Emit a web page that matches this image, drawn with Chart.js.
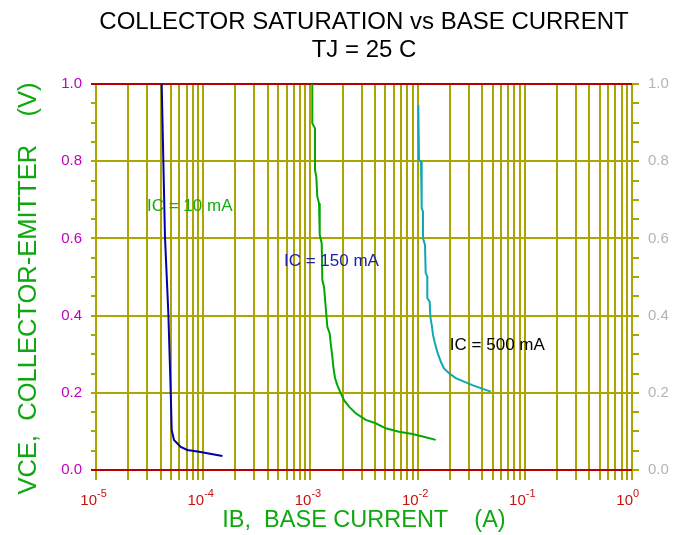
<!DOCTYPE html>
<html>
<head>
<meta charset="utf-8">
<script src="https://cdn.jsdelivr.net/npm/chart.js@4"></script>
<style>
  html, body { margin: 0; padding: 0; background: #ffffff; }
  #wrap { width: 677px; height: 535px; position: relative; }
</style>
</head>
<body>
<div id="wrap"><canvas id="c" width="677" height="535"></canvas></div>
<script>
// ---------- data ----------
const titleLines = ['COLLECTOR SATURATION vs BASE CURRENT', 'TJ = 25 C'];
const xAxisTitle = 'IB,  BASE CURRENT    (A)';
const yAxisTitle = 'VCE,  COLLECTOR-EMITTER    (V)';

const xDecades = [-5, -4, -3, -2, -1, 0];          // x tick labels 10^n
const yTickLabels = ['0.0', '0.2', '0.4', '0.6', '0.8', '1.0'];

const seriesNames = ['IC = 10 mA', 'IC = 150 mA', 'IC = 500 mA'];

// IC = 10 mA
const ib10  = [4.10e-5, 4.40e-5, 4.73e-5, 4.98e-5, 5.08e-5, 5.34e-5, 6.17e-5, 7.11e-5, 9.14e-5, 1.51e-4];
const vce10 = [1.000, 0.604, 0.406, 0.199, 0.104, 0.078, 0.060, 0.052, 0.047, 0.036];

// IC = 150 mA
const ib150  = [1.042e-3, 1.042e-3, 1.104e-3, 1.104e-3, 1.135e-3, 1.160e-3, 1.203e-3, 1.222e-3, 1.275e-3, 1.291e-3,
                1.339e-3, 1.389e-3, 1.438e-3, 1.514e-3, 1.547e-3, 1.601e-3, 1.636e-3, 1.697e-3, 1.782e-3, 1.917e-3,
                2.058e-3, 2.291e-3, 2.647e-3, 3.281e-3, 4.065e-3, 5.04e-3, 6.71e-3, 8.93e-3, 1.190e-2, 1.475e-2];
const vce150 = [1.000, 0.898, 0.885, 0.777, 0.760, 0.708, 0.691, 0.609, 0.587, 0.492,
                0.475, 0.423, 0.371, 0.354, 0.328, 0.294, 0.268, 0.238, 0.220, 0.199,
                0.181, 0.164, 0.147, 0.130, 0.121, 0.108, 0.099, 0.093, 0.085, 0.078];

// IC = 500 mA
const ib500  = [1.015e-2, 1.031e-2, 1.076e-2, 1.092e-2, 1.123e-2, 1.123e-2, 1.172e-2, 1.190e-2, 1.232e-2, 1.232e-2,
                1.297e-2, 1.314e-2, 1.354e-2, 1.392e-2, 1.453e-2, 1.527e-2, 1.643e-2, 1.763e-2, 1.963e-2, 2.267e-2,
                2.71e-2, 3.24e-2, 3.88e-2, 4.81e-2];
const vce500 = [0.946, 0.803, 0.799, 0.678, 0.669, 0.600, 0.583, 0.510, 0.501, 0.445,
                0.436, 0.397, 0.376, 0.350, 0.328, 0.306, 0.281, 0.263, 0.251, 0.238,
                0.229, 0.220, 0.212, 0.203];

// curve label anchors (IB, VCE of label baseline start)
const labelIB  = [2.99e-5, 5.67e-4, 2.0e-2];
const labelVCE = [0.672, 0.528, 0.311];

// ---------- styles ----------
const OLIVE = '#aaa500';
const DARKRED = '#b40000';
const curveColors = ['#0000a8', '#00a800', '#10a8b0'];
const labelColors = ['#10b010', '#2020a0', '#000000'];
const FONT = '"Liberation Sans", Arial, sans-serif';

const toPts = (xs, ys) => xs.map((v, i) => ({ x: v, y: ys[i] }));

const xTickValues = [];
xDecades.forEach((d, i) => {
  if (i === xDecades.length - 1) { xTickValues.push(Math.pow(10, d)); return; }
  for (let m = 1; m <= 9; m++) xTickValues.push(m * Math.pow(10, d));
});

const isMajorY = v => Math.abs(Math.round(v * 100) % 20) === 0;
const isEdgeY = v => Math.abs(v) < 1e-6 || Math.abs(v - 1) < 1e-6;
const yLabel = v => {
  const k = Math.round(v * 100);
  return (k % 20 === 0) ? yTickLabels[k / 20] : '';
};

const textPlugin = {
  id: 'texts',
  afterDraw(chart) {
    const { ctx, chartArea: a, scales } = chart;
    const x = scales.x, y = scales.y;
    ctx.save();
    const cx = (a.left + a.right) / 2;
    // title
    ctx.fillStyle = '#000000';
    ctx.font = '24px ' + FONT;
    ctx.textAlign = 'center';
    ctx.textBaseline = 'alphabetic';
    ctx.fillText(titleLines[0], cx, 28.5);
    ctx.fillText(titleLines[1], cx, 57);

    // x tick labels 10^n
    xDecades.forEach(d => {
      const px = x.getPixelForValue(Math.pow(10, d));
      ctx.fillStyle = '#c81010';
      ctx.font = '15px ' + FONT;
      ctx.textAlign = 'right';
      ctx.fillText('10', px + 1, 505);
      ctx.font = '11px ' + FONT;
      ctx.textAlign = 'left';
      ctx.fillText(String(d), px + 1, 497);
    });

    // axis titles
    ctx.fillStyle = '#10a810';
    ctx.font = '23.5px ' + FONT;
    ctx.textAlign = 'center';
    ctx.fillText(xAxisTitle, cx, 527);

    ctx.save();
    ctx.translate(36, 288.5);
    ctx.rotate(-Math.PI / 2);
    ctx.font = '25.5px ' + FONT;
    ctx.fillText(yAxisTitle, 0, 0);
    ctx.restore();

    // curve labels
    ctx.font = '17px ' + FONT;
    ctx.textAlign = 'left';
    seriesNames.forEach((name, i) => {
      ctx.fillStyle = labelColors[i];
      ctx.fillText(name, x.getPixelForValue(labelIB[i]), y.getPixelForValue(labelVCE[i]));
    });
    ctx.restore();
  }
};

new Chart(document.getElementById('c'), {
  type: 'scatter',
  data: {
    datasets: [
      { label: seriesNames[0], data: toPts(ib10, vce10), borderColor: curveColors[0] },
      { label: seriesNames[1], data: toPts(ib150, vce150), borderColor: curveColors[1] },
      { label: seriesNames[2], data: toPts(ib500, vce500), borderColor: curveColors[2] }
    ].map(d => Object.assign(d, {
      showLine: true, pointRadius: 0, borderWidth: 2, tension: 0, fill: false,
      backgroundColor: d.borderColor
    }))
  },
  options: {
    responsive: false,
    animation: false,
    devicePixelRatio: 1,
    layout: { padding: { top: 84, left: 0, right: 0, bottom: 0 } },
    plugins: { legend: { display: false }, title: { display: false }, tooltip: { enabled: false } },
    scales: {
      x: {
        type: 'logarithmic',
        position: 'bottom',
        min: 1e-5, max: 1,
        afterBuildTicks: s => { s.ticks = xTickValues.map(v => ({ value: v })); },
        afterFit: s => { s.height = 65; },
        ticks: { display: false, autoSkip: false },
        grid: { color: OLIVE, tickColor: OLIVE, lineWidth: 2, drawTicks: true, tickLength: 10 },
        border: { display: false }
      },
      y: {
        type: 'linear',
        position: 'left',
        min: 0, max: 1,
        afterFit: s => { s.width = 96; },
        ticks: {
          stepSize: 0.05, autoSkip: false, padding: 9,
          color: '#c000c0',
          font: { family: FONT, size: 15 },
          callback: v => yLabel(v)
        },
        grid: {
          lineWidth: 2,
          tickLength: 5,
          color: c => isEdgeY(c.tick.value) ? DARKRED : (isMajorY(c.tick.value) ? OLIVE : 'rgba(0,0,0,0)'),
          tickColor: c => isEdgeY(c.tick.value) ? DARKRED : OLIVE
        },
        border: { display: false }
      },
      y2: {
        type: 'linear',
        position: 'right',
        min: 0, max: 1,
        afterFit: s => { s.width = 45; },
        ticks: {
          stepSize: 0.05, autoSkip: false, padding: 9,
          color: '#b4b4b4',
          font: { family: FONT, size: 15 },
          callback: v => yLabel(v)
        },
        grid: { drawOnChartArea: false, lineWidth: 2, tickLength: 7, tickColor: OLIVE, color: OLIVE },
        border: { display: false }
      }
    }
  },
  plugins: [textPlugin]
});
</script>
</body>
</html>
